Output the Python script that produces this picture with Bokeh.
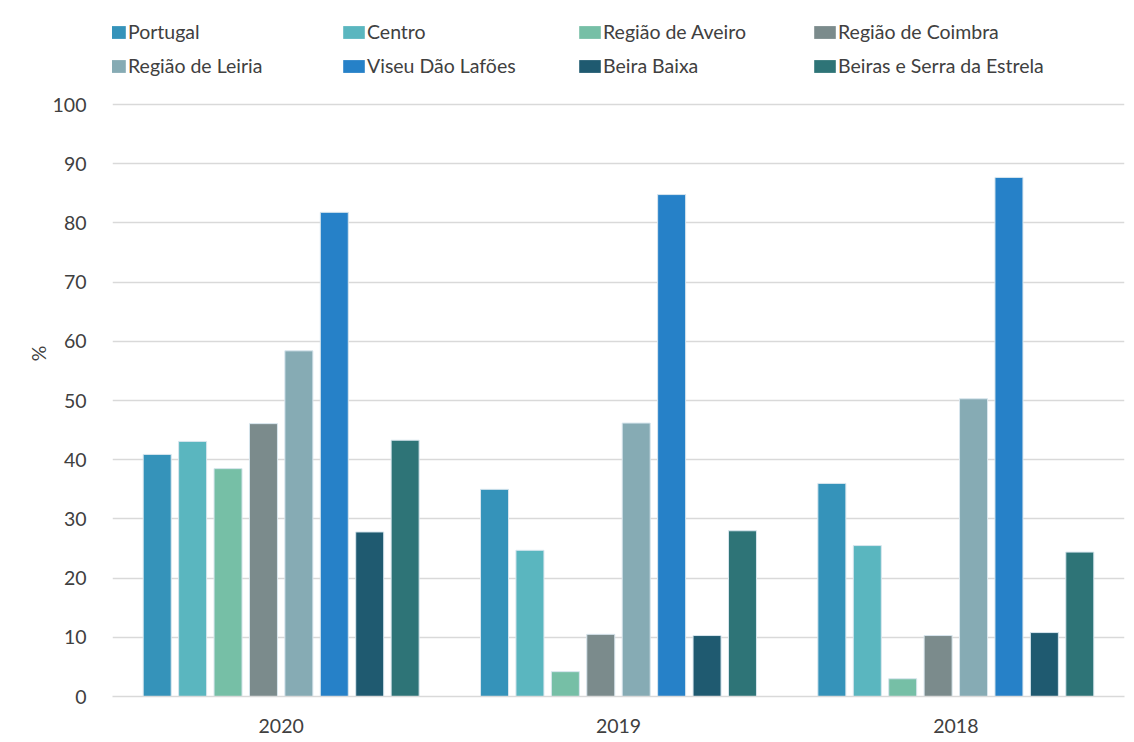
from bokeh.plotting import figure
from bokeh.models import ColumnDataSource, Legend, LegendItem, FactorRange
from bokeh.transform import dodge
from bokeh.embed import file_html
from bokeh.resources import INLINE

years = ["2020", "2019", "2018"]
series = ["Portugal", "Centro", "Região de Aveiro", "Região de Coimbra",
          "Região de Leiria", "Viseu Dão Lafões", "Beira Baixa", "Beiras e Serra da Estrela"]
portugal = [40.9, 35.0, 36.0]
centro = [43.1, 24.7, 25.5]
aveiro = [38.5, 4.2, 3.0]
coimbra = [46.1, 10.5, 10.3]
leiria = [58.4, 46.2, 50.3]
viseu = [81.8, 84.8, 87.7]
beira_baixa = [27.8, 10.3, 10.8]
beiras_serra = [43.3, 28.0, 24.4]
values = [portugal, centro, aveiro, coimbra, leiria, viseu, beira_baixa, beiras_serra]
colors = ["#3593BA", "#5AB6BF", "#76BFA6", "#7B8B8C", "#86ABB4", "#2681C8", "#1F5A70", "#2E7477"]
yticks = list(range(0, 101, 10))

data = {"year": years}
for i, v in enumerate(values):
    data[f"s{i}"] = v
src = ColumnDataSource(data)

FONT = "Lato"
FS = "19.5px"
TXT = "#404040"
p = figure(x_range=FactorRange(*years, range_padding=0), y_range=(0, 115.9),
           width=1134, height=742, output_backend="svg", toolbar_location=None,
           min_border_left=112, min_border_right=10, min_border_bottom=46, min_border_top=10)

step = 0.105
key_renderers = []
for i in range(8):
    off = (i - 3.5) * step
    p.vbar(x=dodge("year", off, range=p.x_range), top=f"s{i}", width=0.083, source=src,
           fill_color=colors[i], line_color="#d8e6ee", line_width=1)
    # zero-size swatch renderer, used only for the legend key
    k = p.quad(left="year", right="year", top=0, bottom=0, source=src,
               fill_color=colors[i], line_color=None)
    key_renderers.append(k)

# legend: 4 columns of 2 rows (row 1 = series 0..3, row 2 = series 4..7)
col_x = [-11, 228, 464, 699]
for c in range(4):
    items = [LegendItem(label=series[c], renderers=[key_renderers[c]], index=0),
             LegendItem(label=series[c + 4], renderers=[key_renderers[c + 4]], index=0)]
    lg = Legend(items=items, orientation="vertical", location=(col_x[c], 619),
                label_text_font=FONT, label_text_font_size=FS, label_text_color=TXT,
                glyph_width=27, glyph_height=16, label_height=20,
                spacing=11, padding=0, margin=0, border_line_color=None,
                background_fill_alpha=0, label_standoff=0)
    p.add_layout(lg, "center")

p.yaxis.ticker = yticks
p.yaxis.axis_line_color = None
p.yaxis.major_tick_line_color = None
p.yaxis.minor_tick_line_color = None
p.yaxis.major_label_text_font = FONT
p.yaxis.major_label_text_font_size = FS
p.yaxis.major_label_text_color = TXT
p.yaxis.axis_label = "%"
p.yaxis.axis_label_text_font = FONT
p.yaxis.axis_label_text_font_size = FS
p.yaxis.axis_label_text_font_style = "normal"
p.yaxis.axis_label_text_color = TXT
p.yaxis.axis_label_standoff = 0
p.yaxis.major_label_standoff = 20

p.xaxis.axis_line_color = "#d9d9d9"
p.xaxis.axis_line_width = 1.5
p.xaxis.major_tick_line_color = None
p.xaxis.minor_tick_line_color = None
p.xaxis.major_label_text_font = FONT
p.xaxis.major_label_text_font_size = FS
p.xaxis.major_label_text_color = TXT
p.xaxis.major_label_standoff = 16

p.xgrid.grid_line_color = None
p.ygrid.grid_line_color = "#d9d9d9"
p.ygrid.grid_line_width = 1.5
p.outline_line_color = None

open("out.html", "w").write(file_html(p, INLINE))
